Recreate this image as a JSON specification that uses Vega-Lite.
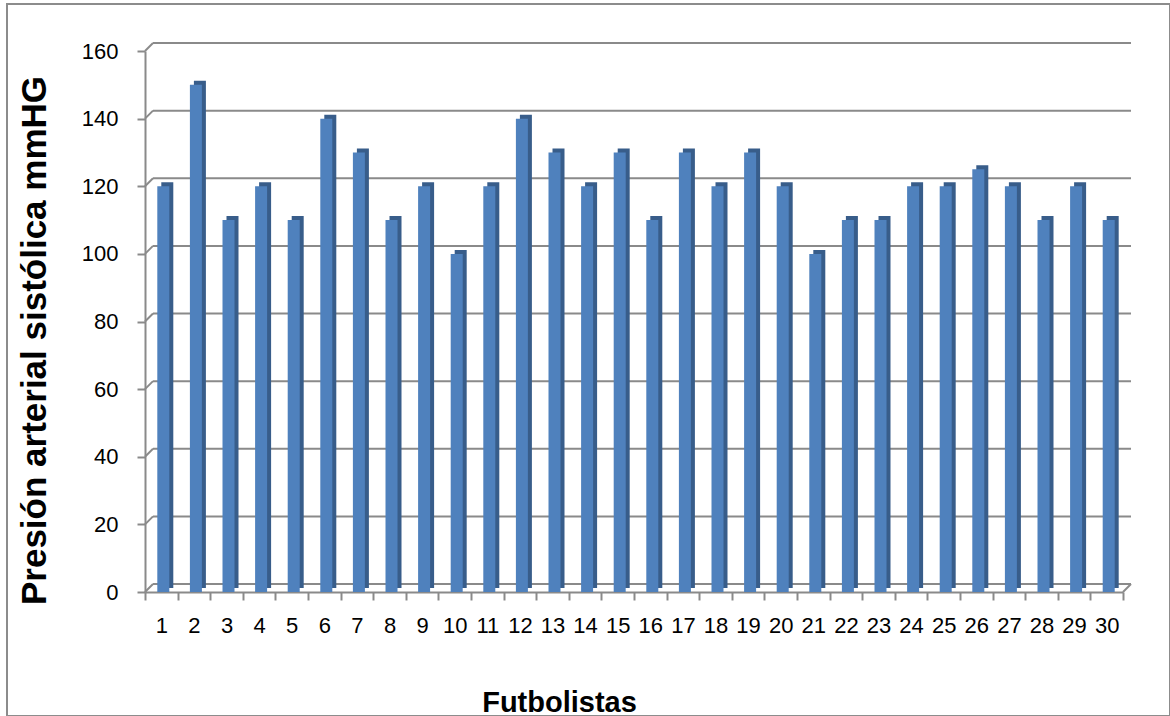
{
  "$schema": "https://vega.github.io/schema/vega-lite/v6.json",
  "width": 1163,
  "height": 712,
  "autosize": "none",
  "padding": {"left": 7, "top": 4, "right": 0, "bottom": 0},
  "background": "white",
  "config": {
    "view": {"stroke": "#8c8c8c", "strokeWidth": 2},
    "font": "Liberation Sans"
  },
  "datasets": {
    "grid": [{"v": 0}, {"v": 20}, {"v": 40}, {"v": 60}, {"v": 80}, {"v": 100}, {"v": 120}, {"v": 140}, {"v": 160}],
    "one": [{"k": 1}]
  },
  "data": {
    "values": [
      {"futbolista": 1, "presion": 120},
      {"futbolista": 2, "presion": 150},
      {"futbolista": 3, "presion": 110},
      {"futbolista": 4, "presion": 120},
      {"futbolista": 5, "presion": 110},
      {"futbolista": 6, "presion": 140},
      {"futbolista": 7, "presion": 130},
      {"futbolista": 8, "presion": 110},
      {"futbolista": 9, "presion": 120},
      {"futbolista": 10, "presion": 100},
      {"futbolista": 11, "presion": 120},
      {"futbolista": 12, "presion": 140},
      {"futbolista": 13, "presion": 130},
      {"futbolista": 14, "presion": 120},
      {"futbolista": 15, "presion": 130},
      {"futbolista": 16, "presion": 110},
      {"futbolista": 17, "presion": 130},
      {"futbolista": 18, "presion": 120},
      {"futbolista": 19, "presion": 130},
      {"futbolista": 20, "presion": 120},
      {"futbolista": 21, "presion": 100},
      {"futbolista": 22, "presion": 110},
      {"futbolista": 23, "presion": 110},
      {"futbolista": 24, "presion": 120},
      {"futbolista": 25, "presion": 120},
      {"futbolista": 26, "presion": 125},
      {"futbolista": 27, "presion": 120},
      {"futbolista": 28, "presion": 110},
      {"futbolista": 29, "presion": 120},
      {"futbolista": 30, "presion": 110}
    ]
  },
  "layer": [
    {
      "data": {"name": "grid"},
      "mark": {"type": "rule", "color": "#8a8a8a", "strokeWidth": 2, "xOffset": 8, "x2Offset": 8, "yOffset": -8},
      "encoding": {
        "x": {
          "datum": 1,
          "type": "ordinal",
          "bandPosition": 0,
          "scale": {"range": [138, 1116], "paddingInner": 0, "paddingOuter": 0},
          "axis": {
            "title": "Futbolistas",
            "offset": -124,
            "grid": false,
            "domainColor": "#8a8a8a",
            "domainWidth": 2,
            "tickBand": "extent",
            "tickColor": "#8a8a8a",
            "tickWidth": 2,
            "tickSize": 8,
            "labelAngle": 0,
            "labelOverlap": false,
            "labelFont": "Liberation Sans",
            "labelFontSize": 22,
            "labelColor": "#000000",
            "labelPadding": 15,
            "titleFont": "Liberation Sans",
            "titleFontSize": 29,
            "titleFontWeight": "bold",
            "titleColor": "#000000",
            "titleX": 552,
            "titleY": 119,
            "titleAlign": "center",
            "titleBaseline": "alphabetic"
          }
        },
        "x2": {"datum": 30, "bandPosition": 1},
        "y": {
          "field": "v",
          "type": "quantitative",
          "scale": {"domain": [0, 160], "range": [588, 47], "nice": false},
          "axis": {
            "title": "Presión arterial sistólica mmHG",
            "offset": -138,
            "values": [0, 20, 40, 60, 80, 100, 120, 140, 160],
            "grid": false,
            "domainColor": "#8a8a8a",
            "domainWidth": 2,
            "tickColor": "#8a8a8a",
            "tickWidth": 2,
            "tickSize": 8,
            "labelFont": "Liberation Sans",
            "labelFontSize": 22,
            "labelColor": "#000000",
            "labelPadding": 19,
            "titleFont": "Liberation Sans",
            "titleFontSize": 35,
            "titleFontWeight": "bold",
            "titleColor": "#000000",
            "titleAngle": 270,
            "titleX": -111,
            "titleY": 336,
            "titleAlign": "center",
            "titleBaseline": "middle"
          }
        }
      }
    },
    {
      "data": {"name": "grid"},
      "mark": {"type": "rule", "color": "#8a8a8a", "strokeWidth": 2, "x2Offset": 8, "y2Offset": -8},
      "encoding": {
        "x": {"datum": 1, "type": "ordinal", "bandPosition": 0},
        "x2": {"datum": 1, "bandPosition": 0},
        "y": {"field": "v", "type": "quantitative"},
        "y2": {"field": "v"}
      }
    },
    {
      "data": {"name": "one"},
      "mark": {"type": "rule", "color": "#8a8a8a", "strokeWidth": 2, "x2Offset": 8, "y2Offset": -8},
      "encoding": {
        "x": {"datum": 30, "type": "ordinal", "bandPosition": 1},
        "x2": {"datum": 30, "bandPosition": 1},
        "y": {"datum": 0, "type": "quantitative"},
        "y2": {"datum": 0}
      }
    },
    {
      "mark": {"type": "bar", "color": "#385d8a", "width": 12, "xOffset": 6, "yOffset": -4, "y2Offset": -4},
      "encoding": {
        "x": {"field": "futbolista", "type": "ordinal"},
        "y": {"field": "presion", "type": "quantitative"},
        "y2": {"datum": 0}
      }
    },
    {
      "mark": {"type": "bar", "color": "#4f81bd", "width": 12, "xOffset": 2},
      "encoding": {
        "x": {"field": "futbolista", "type": "ordinal"},
        "y": {"field": "presion", "type": "quantitative"},
        "y2": {"datum": 0}
      }
    }
  ]
}
